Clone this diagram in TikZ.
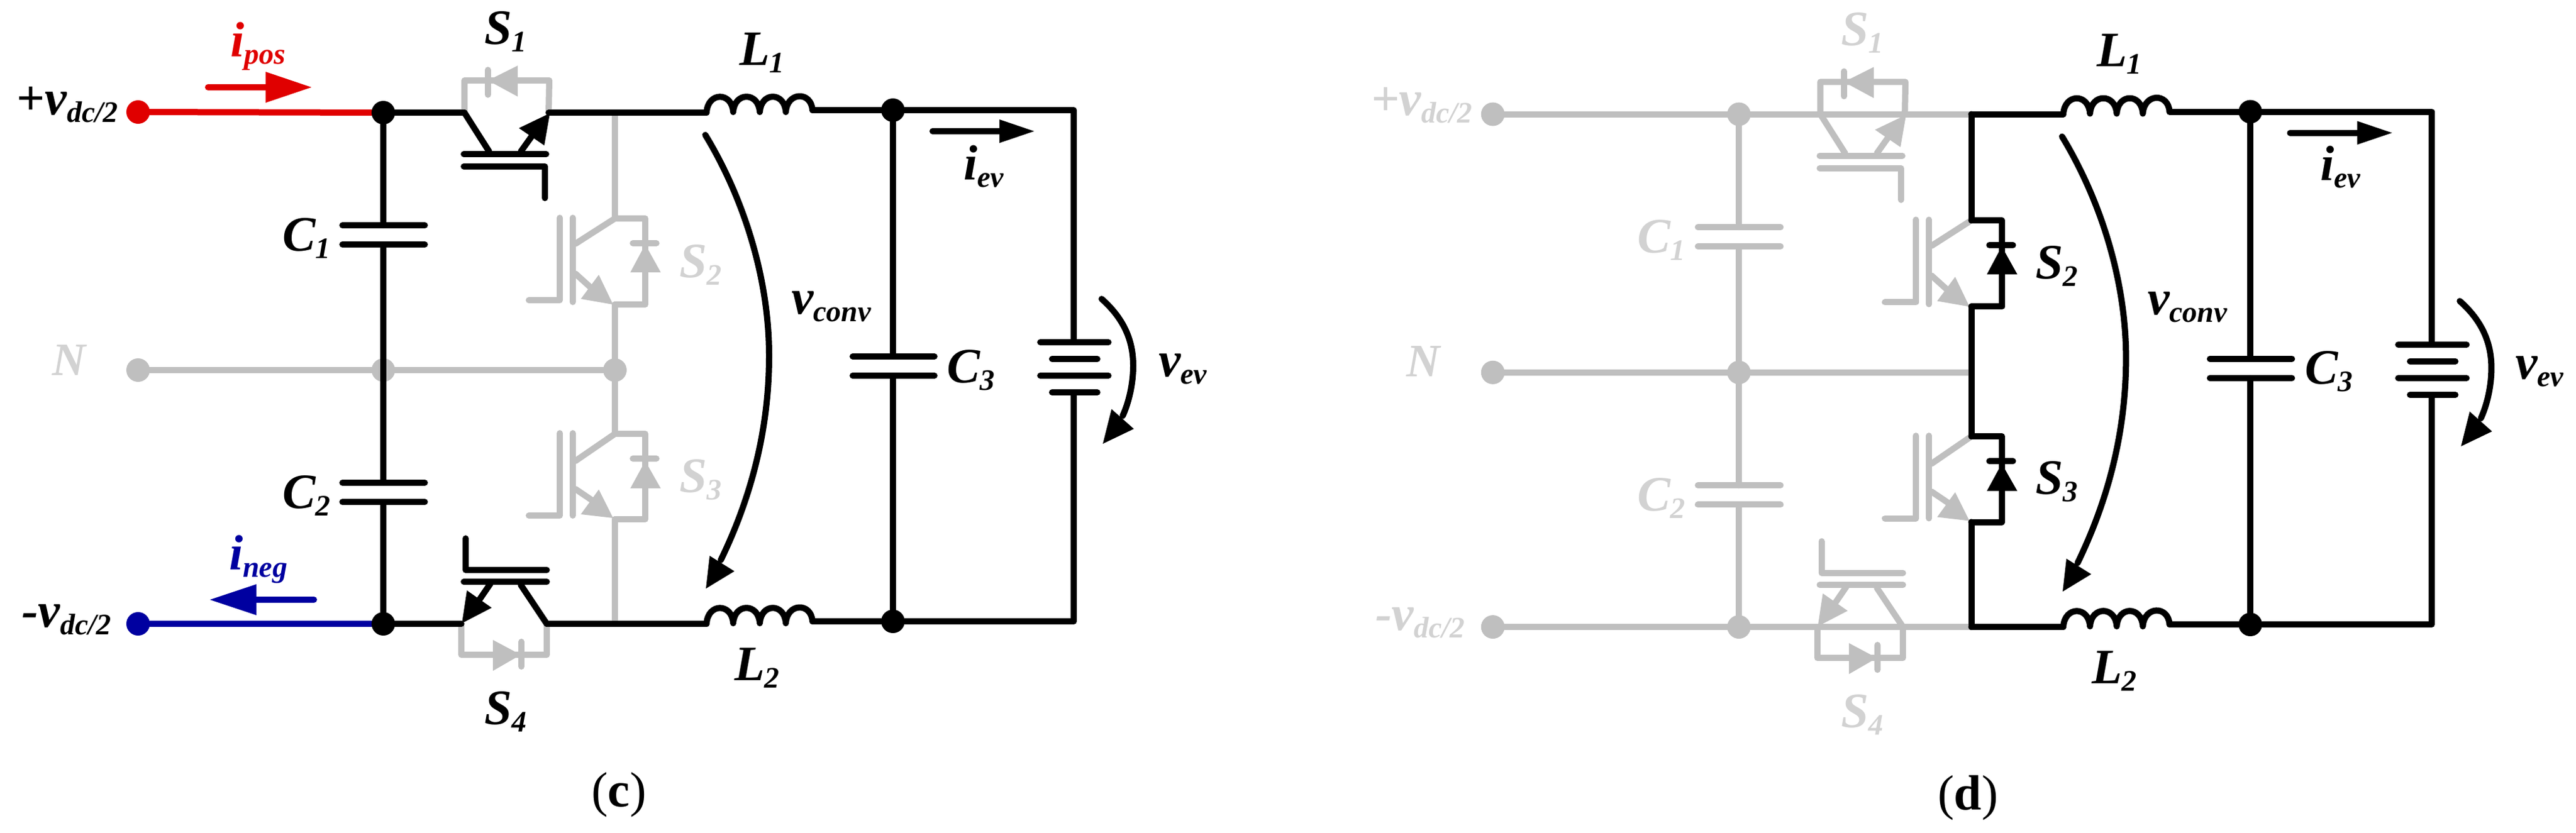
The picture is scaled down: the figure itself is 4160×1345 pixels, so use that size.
\documentclass[tikz,border=0pt]{standalone}
\usepackage{fontspec}
\setmainfont{Liberation Serif}
\definecolor{gw}{HTML}{BFBFBF}
\definecolor{gl}{HTML}{D2D2D2}
\definecolor{rw}{HTML}{E00000}
\definecolor{bw}{HTML}{0000A0}
\tikzset{
  wire/.style={draw=#1,line width=10pt,line join=round,line cap=round},
  dotn/.style={circle,fill=#1,draw=none,minimum size=38pt,inner sep=0pt,outer sep=0pt},
  lab/.style={anchor=base west,inner sep=0pt,outer sep=0pt,text=#1},
  captext/.style={anchor=base west,inner sep=0pt,outer sep=0pt,font=\fontsize{80pt}{90pt}\selectfont},
}
\newcommand{\Lbl}[2]{\fontsize{80pt}{90pt}\selectfont\bfseries\itshape #1\raisebox{-12pt}{\fontsize{48pt}{50pt}\selectfont #2}}
\newcommand{\Coords}{%
  \coordinate (\p jt) at (619,182);
  \coordinate (\p jb) at (619,1008);
  \coordinate (\p s1c) at (750,182);
  \coordinate (\p s1e) at (886,182);
  \coordinate (\p rt) at (993,182);
  \coordinate (\p rn) at (993,598);
  \coordinate (\p rb) at (993,1008);
  \coordinate (\p s2t) at (993,353);
  \coordinate (\p s2b) at (993,492);
  \coordinate (\p s3t) at (993,701);
  \coordinate (\p s3b) at (993,839);
  \coordinate (\p s4l) at (745,1008);
  \coordinate (\p s4r) at (883,1008);
  \coordinate (\p lta) at (1141,182);
  \coordinate (\p ltb) at (1312,178);
  \coordinate (\p lba) at (1141,1008);
  \coordinate (\p lbb) at (1312,1004);
  \coordinate (\p c3t) at (1442,178);
  \coordinate (\p c3b) at (1442,1004);
  \coordinate (\p ot) at (1734,178);
  \coordinate (\p ob) at (1734,1004);
}
% input terminals and wires
\newcommand{\DotT}[4]{\node[dotn=#1] (\p #2) at (#3,#4) {};}
\newcommand{\CapCol}[1]{%
  \draw[wire=#1] (\p jt) -- (619,364);
  \draw[wire=#1] (619,395) -- (619,780);
  \draw[wire=#1] (619,811) -- (\p jb);
  \draw[wire=#1] (553,364) -- (686,364);
  \draw[wire=#1] (553,395) -- (686,395);
  \draw[wire=#1] (553,780) -- (686,780);
  \draw[wire=#1] (553,811) -- (686,811);
}
\newcommand{\IgbtOne}[1]{%
  \draw[wire=#1] (\p s1c) -- (790,245);
  \draw[wire=#1] (841,245) -- (868,207);
  \fill[#1] (888,183) -- (838,207) -- (879,235) -- cycle;
  \draw[wire=#1] (749,249) -- (882,249);
  \draw[wire=#1] (749,269) -- (880,269) -- (880,320);
}
\newcommand{\DiodeOne}[1]{%
  \draw[wire=#1] (\p s1c) -- (750,130) -- (887,130) -- (\p s1e);
  \draw[wire=#1] (788,113) -- (788,153);
  \fill[#1] (836,106) -- (788,130) -- (836,156) -- cycle;
}
\newcommand{\IgbtFour}[1]{%
  \draw[wire=#1] (752,870) -- (752,921) -- (883,921);
  \draw[wire=#1] (749,940) -- (883,940);
  \draw[wire=#1] (792,943) -- (768,978);
  \fill[#1] (746,1007) -- (754,954) -- (794,982) -- cycle;
  \draw[wire=#1] (841,945) -- (\p s4r);
}
\newcommand{\DiodeFour}[1]{%
  \draw[wire=#1] (\p s4l) -- (745,1058) -- (883,1058) -- (\p s4r);
  \fill[#1] (796,1034) -- (841,1058) -- (796,1084) -- cycle;
  \draw[wire=#1] (842,1037) -- (842,1077);
}
\newcommand{\IgbtTwo}[1]{%
  \draw[wire=#1] (925,352) -- (925,488);
  \draw[wire=#1] (904,352) -- (904,485) -- (854,485);
  \draw[wire=#1] (\p s2t) -- (929,394);
  \draw[wire=#1] (929,442) -- (960,470);
  \fill[#1] (990,492) -- (967,444) -- (938,483) -- cycle;
}
\newcommand{\DiodeTwo}[1]{%
  \draw[wire=#1] (\p s2t) -- (1042,353) -- (1042,492) -- (\p s2b);
  \draw[wire=#1] (1022,393) -- (1060,393);
  \fill[#1] (1018,440) -- (1067,440) -- (1042,395) -- cycle;
}
\newcommand{\IgbtThree}[1]{%
  \draw[wire=#1] (925,700) -- (925,833);
  \draw[wire=#1] (904,700) -- (904,833) -- (854,833);
  \draw[wire=#1] (\p s3t) -- (929,745);
  \draw[wire=#1] (929,790) -- (960,811);
  \fill[#1] (990,837) -- (967,791) -- (938,831) -- cycle;
}
\newcommand{\DiodeThree}[1]{%
  \draw[wire=#1] (\p s3t) -- (1042,701) -- (1042,839) -- (\p s3b);
  \draw[wire=#1] (1022,741) -- (1060,741);
  \fill[#1] (1018,789) -- (1067,789) -- (1042,745) -- cycle;
}
\newcommand{\Rail}[1]{%
  \draw[wire=#1] (\p rt) -- (\p s2t);
  \draw[wire=#1] (\p s2b) -- (\p s3t);
  \draw[wire=#1] (\p s3b) -- (\p rb);
}
\newcommand{\Coil}[1]{%
  \draw[wire=black] (#1) .. controls +(2,-34) and +(-2,-33) .. ++(43,-1)
    .. controls +(2,-33) and +(-2,-33) .. ++(43,0)
    .. controls +(2,-33) and +(-2,-33) .. ++(42,0)
    .. controls +(2,-33) and +(-2,-31) .. ++(43,-3);
}
\newcommand{\Output}{%
  \Coil{\p lta}
  \Coil{\p lba}
  \draw[wire=black] (\p rt) -- (\p lta);
  \draw[wire=black] (\p rb) -- (\p lba);
  \draw[wire=black] (\p ltb) -- (\p c3t) -- (\p ot) -- (1734,553);
  \draw[wire=black] (1734,634) -- (\p ob) -- (\p c3b) -- (\p lbb);
  \draw[wire=black] (\p c3t) -- (1442,576);
  \draw[wire=black] (1442,607) -- (\p c3b);
  \draw[wire=black] (1377,576) -- (1509,576);
  \draw[wire=black] (1377,607) -- (1509,607);
  \draw[wire=black] (1680,553) -- (1790,553);
  \draw[wire=black] (1699,580) -- (1772,580);
  \draw[wire=black] (1680,607) -- (1790,607);
  \draw[wire=black] (1699,634) -- (1772,634);
  \DotT{black}{d3t}{1442}{178}
  \DotT{black}{d3b}{1442}{1004}
  \draw[wire=black] (1506,212) -- (1614,212);
  \fill[black] (1614,193) -- (1670,212) -- (1614,231) -- cycle;
  \draw[wire=black] (1139,218) .. controls (1195,310) and (1242,440) .. (1242,575)
     .. controls (1242,700) and (1210,810) .. (1164,905);
  \fill[black] (1140,951) -- (1146,898) -- (1186,923) -- cycle;
  \draw[wire=black] (1779,483) .. controls (1815,515) and (1830,550) .. (1830,591)
     .. controls (1830,620) and (1823,650) .. (1813,672);
  \fill[black] (1781,717) -- (1795,661) -- (1831,693) -- cycle;
}
\begin{document}
\begin{tikzpicture}[x=1pt,y=-1pt]
\useasboundingbox (0,0) rectangle (4160,1345);
% ---------- (c) ----------
\begin{scope}
\def\p{c}
\Coords
\draw[wire=gw] (223,598) -- (\p rn);
\Rail{gw}
\draw[wire=gw] (\p s1e) -- (\p rt);
\draw[wire=gw] (\p s4r) -- (\p rb);
\DiodeOne{gw} \DiodeFour{gw}
\IgbtTwo{gw} \DiodeTwo{gw} \IgbtThree{gw} \DiodeThree{gw}
\DotT{gw}{dn}{223}{598}
\DotT{gw}{jn}{619}{598}
\DotT{gw}{dm}{993}{598}
\draw[wire=rw,line cap=butt] (223,181) -- (\p jt);
\draw[wire=bw,line cap=butt] (223,1008) -- (\p jb);
\DotT{rw}{dp}{223}{181}
\DotT{bw}{dq}{223}{1008}
\CapCol{black}
\draw[wire=black] (\p jt) -- (\p s1c);
\draw[wire=black] (\p s1e) -- (\p rt);
\draw[wire=black] (\p jb) -- (\p s4l);
\draw[wire=black] (\p s4r) -- (\p rb);
\IgbtOne{black} \IgbtFour{black}
\DotT{black}{dt}{619}{182}
\DotT{black}{db}{619}{1008}
\Output
\draw[wire=rw] (336,141) -- (429,141);
\fill[rw] (429,116) -- (503,141) -- (429,166) -- cycle;
\draw[wire=bw] (507,969) -- (414,969);
\fill[bw] (414,944) -- (339,969) -- (414,994) -- cycle;
\end{scope}
% ---------- (d) ----------
\begin{scope}[x=1.0035pt,y=-1.003pt,xshift=2187pt,yshift=-2pt]
\def\p{d}
\Coords
\draw[wire=gw] (223,182) -- (\p rt);
\draw[wire=gw] (223,598) -- (\p rn);
\draw[wire=gw] (223,1008) -- (\p rb);
\CapCol{gw}
\IgbtOne{gw} \DiodeOne{gw} \IgbtFour{gw} \DiodeFour{gw}
\IgbtTwo{gw} \IgbtThree{gw}
\DotT{gw}{dp}{223}{182}
\DotT{gw}{dn}{223}{598}
\DotT{gw}{dq}{223}{1008}
\DotT{gw}{dt}{619}{182}
\DotT{gw}{jn}{619}{598}
\DotT{gw}{db}{619}{1008}
\Rail{black}
\DiodeTwo{black} \DiodeThree{black}
\Output
\end{scope}
% ---------- labels (c) ----------
\node[lab=black] (tvp) at (27,185) {\Lbl{+v}{dc/2}};
\node[lab=black] (tvn) at (35,1013) {\Lbl{-v}{dc/2}};
\node[lab=gl] (tn) at (84,606) {\fontsize{75pt}{80pt}\selectfont\bfseries\itshape N};
\node[lab=rw] (tip) at (372,91) {\Lbl{i}{pos}};
\node[lab=bw] (tin) at (370,920) {\Lbl{i}{neg}};
\node[lab=black] (tc1) at (456,405) {\Lbl{C}{1}};
\node[lab=black] (tc2) at (456,821) {\Lbl{C}{2}};
\node[lab=black] (ts1) at (782,71) {\Lbl{S}{1}};
\node[lab=gl] (ts2) at (1097,448) {\Lbl{S}{2}};
\node[lab=gl] (ts3) at (1097,795) {\Lbl{S}{3}};
\node[lab=black] (ts4) at (782,1170) {\Lbl{S}{4}};
\node[lab=black] (tl1) at (1194,105) {\Lbl{L}{1}};
\node[lab=black] (tl2) at (1186,1099) {\Lbl{L}{2}};
\node[lab=black] (tvc) at (1278,507) {\Lbl{v}{conv}};
\node[lab=black] (tc3) at (1529,618) {\Lbl{C}{3}};
\node[lab=black] (tie) at (1556,290) {\Lbl{i}{ev}};
\node[lab=black] (tve) at (1871,608) {\Lbl{v}{ev}};
\node[captext] (capc) at (955,1303) {(\textbf{c})};
% ---------- labels (d) ----------
\node[lab=gl] (uvp) at (2214,186) {\Lbl{+v}{dc/2}};
\node[lab=gl] (uvn) at (2221,1018) {\Lbl{-v}{dc/2}};
\node[lab=gl] (un) at (2271,608) {\fontsize{75pt}{80pt}\selectfont\bfseries\itshape N};
\node[lab=gl] (uc1) at (2644,408) {\Lbl{C}{1}};
\node[lab=gl] (uc2) at (2644,825) {\Lbl{C}{2}};
\node[lab=gl] (us1) at (2973,73) {\Lbl{S}{1}};
\node[lab=black] (us2) at (3287,450) {\Lbl{S}{2}};
\node[lab=black] (us3) at (3287,798) {\Lbl{S}{3}};
\node[lab=gl] (us4) at (2973,1175) {\Lbl{S}{4}};
\node[lab=black] (ul1) at (3386,107) {\Lbl{L}{1}};
\node[lab=black] (ul2) at (3378,1104) {\Lbl{L}{2}};
\node[lab=black] (uvc) at (3468,508) {\Lbl{v}{conv}};
\node[lab=black] (uc3) at (3722,620) {\Lbl{C}{3}};
\node[lab=black] (uie) at (3747,291) {\Lbl{i}{ev}};
\node[lab=black] (uve) at (4062,612) {\Lbl{v}{ev}};
\node[captext] (capd) at (3129,1308) {(\textbf{d})};
\end{tikzpicture}
\end{document}
